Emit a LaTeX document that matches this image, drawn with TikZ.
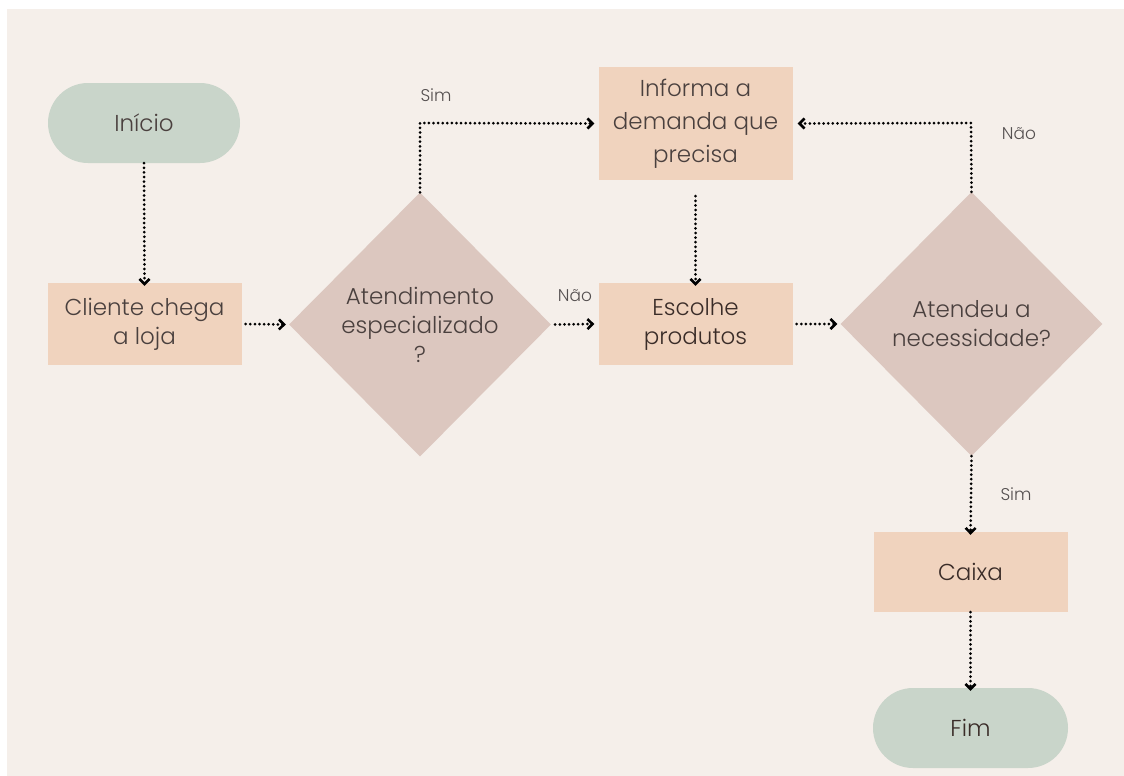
\documentclass[tikz,border=0pt]{standalone}
\usepackage{fontspec}
\setmainfont{Poppins}[UprightFont=* Light]
\usetikzlibrary{arrows.meta,shapes.geometric}
\definecolor{bg}{HTML}{F5EFEA}
\definecolor{sage}{HTML}{C9D5CA}
\definecolor{peach}{HTML}{F0D3BE}
\definecolor{mauve}{HTML}{DCC7BF}
\definecolor{txt}{HTML}{4A403E}
\definecolor{txtd}{HTML}{3A2C28}
\definecolor{lbl}{HTML}{555050}
\tikzset{
  base/.style={font=\fontsize{23}{29}\selectfont, text=txt, align=center, inner sep=0pt},
  pill/.style={base, fill=sage, minimum width=192pt, minimum height=80pt, rounded corners=40pt},
  procbox/.style={base, fill=peach, minimum width=194pt, minimum height=82pt},
  decision/.style={base, shape=diamond, fill=mauve, minimum width=262pt, minimum height=264pt},
  conn/.style={line width=3pt, dash pattern=on 0pt off 4.6pt, line cap=round, draw=black,
    -{Straight Barb[length=5pt,width=10pt,line width=2.6pt]}},
  lab/.style={font=\fontsize{17}{20}\selectfont, text=lbl, inner sep=0pt}
}
\begin{document}
\begin{tikzpicture}[x=1pt,y=-1pt]
\useasboundingbox (0,0) rectangle (1124,776);
\fill[white] (0,0) rectangle (1124,776);
\fill[bg] (7,9) rectangle (1124,776);

\node[pill] (inicio) at (144,123) {Início};
\node[procbox] (cliente) at (144.5,324) {Cliente chega\\a loja};
\node[decision] (atend) at (420,324.5) {Atendimento\\especializado\\?};
\node[procbox, minimum height=113pt, font=\fontsize{23}{33}\selectfont] (informa) at (695.5,123.5) {Informa a\\demanda que\\precisa};
\node[procbox, text=txtd] (escolhe) at (695.5,324) {Escolhe\\produtos};
\node[decision] (atendeu) at (971.5,324) {Atendeu a\\necessidade?};
\node[procbox, minimum height=80pt, text=txtd] (caixa) at (970.5,572) {Caixa};
\node[pill, minimum width=195pt, text=txtd] (fim) at (970.5,728) {Fim};

\coordinate (c1) at (420,123);
\coordinate (c2) at (971,123);

\draw[conn] (inicio.south) -- ([yshift=-3pt]cliente.north);
\draw[conn] ([xshift=4pt]cliente.east) -- ([xshift=-3pt]atend.west);
\draw[conn] (atend.north) -- (c1) -- ([xshift=-4pt]informa.west);
\draw[conn] ([xshift=4pt]atend.east) -- ([xshift=-4pt]escolhe.west);
\draw[conn] ([yshift=-16pt]informa.south) -- ([yshift=-3pt]escolhe.north);
\draw[conn] ([xshift=4pt]escolhe.east) -- ([xshift=-3pt]atendeu.west);
\draw[conn] (atendeu.north) -- (c2) -- ([xshift=5pt]informa.east);
\draw[conn] (atendeu.south) -- ([yshift=-3pt]caixa.north);
\draw[conn] (caixa.south) -- ([yshift=-3pt]fim.north);

\node[lab] (lsim1) at (436,95) {Sim};
\node[lab] (lnao1) at (575,296) {Não};
\node[lab] (lnao2) at (1019,134) {Não};
\node[lab] (lsim2) at (1016,494) {Sim};
\end{tikzpicture}
\end{document}
